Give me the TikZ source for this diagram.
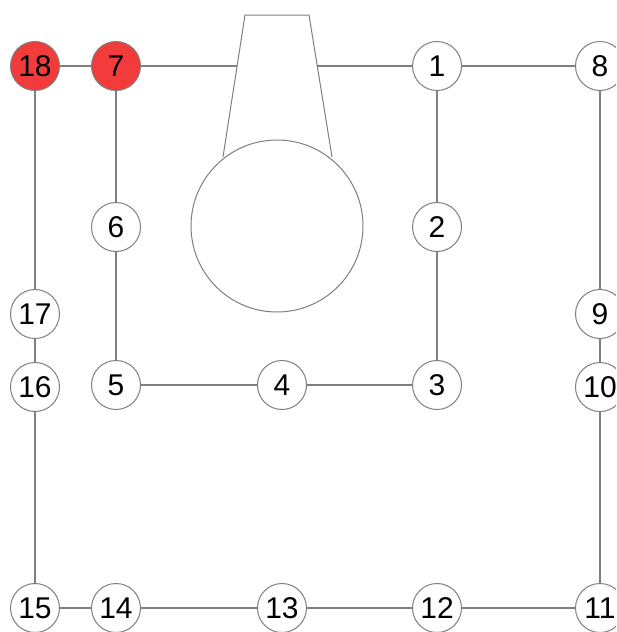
\documentclass[tikz,border=0pt]{standalone}
\usepackage{fontspec}
\setmainfont{Liberation Sans}
\usetikzlibrary{positioning}
\definecolor{EdgeGray}{HTML}{7F7F7F}
\definecolor{HotRed}{HTML}{F23B3B}
\tikzset{
  busnode/.style={circle, draw=EdgeGray, line width=1pt, fill=white, minimum size=49pt, inner sep=0pt, font=\fontsize{30}{32}\selectfont},
  hotnode/.style={busnode, fill=HotRed},
  wire/.style={draw=EdgeGray, line width=1.1pt},
  tank/.style={draw=EdgeGray, line width=1pt, fill=white}
}

\begin{document}
\begin{tikzpicture}[x=1pt, y=-1pt]
\clip (0,0) rectangle (616,632);
\fill[white] (0,0) rectangle (616,632);
% top row
\node[hotnode] (n18) at (35,66) {18};
\node[hotnode] (n7) at (116,66) {7};
\node[busnode] (n1) at (437,66) {1};
\node[busnode] (n8) at (600,66) {8};
% inner loop
\node[busnode] (n6) at (116,227) {6};
\node[busnode] (n2) at (437,227) {2};
\node[busnode] (n5) at (116,385) {5};
\node[busnode] (n4) at (282,385) {4};
\node[busnode] (n3) at (437,385) {3};
% sides
\node[busnode] (n17) at (35,314) {17};
\node[busnode] (n16) at (35,387) {16};
\node[busnode] (n9) at (600,314) {9};
\node[busnode] (n10) at (600,387) {10};
% bottom row
\node[busnode] (n15) at (35,608) {15};
\node[busnode] (n14) at (116,608) {14};
\node[busnode] (n13) at (282,608) {13};
\node[busnode] (n12) at (437,608) {12};
\node[busnode] (n11) at (600,608) {11};
% connectors
\draw[wire] (n18) -- (n7);
\draw[wire] (n7) -- (n1);
\draw[wire] (n1) -- (n8);
\draw[wire] (n8) -- (n9);
\draw[wire] (n9) -- (n10);
\draw[wire] (n10) -- (n11);
\draw[wire] (n11) -- (n12);
\draw[wire] (n12) -- (n13);
\draw[wire] (n13) -- (n14);
\draw[wire] (n14) -- (n15);
\draw[wire] (n15) -- (n16);
\draw[wire] (n16) -- (n17);
\draw[wire] (n17) -- (n18);
\draw[wire] (n7) -- (n6);
\draw[wire] (n6) -- (n5);
\draw[wire] (n5) -- (n4);
\draw[wire] (n4) -- (n3);
\draw[wire] (n3) -- (n2);
\draw[wire] (n2) -- (n1);
% funnel and tank
\filldraw[tank] (223,157) -- (245,15) -- (309,15) -- (332,157);
\draw[tank] (277,226) circle (86);
\end{tikzpicture}
\end{document}
